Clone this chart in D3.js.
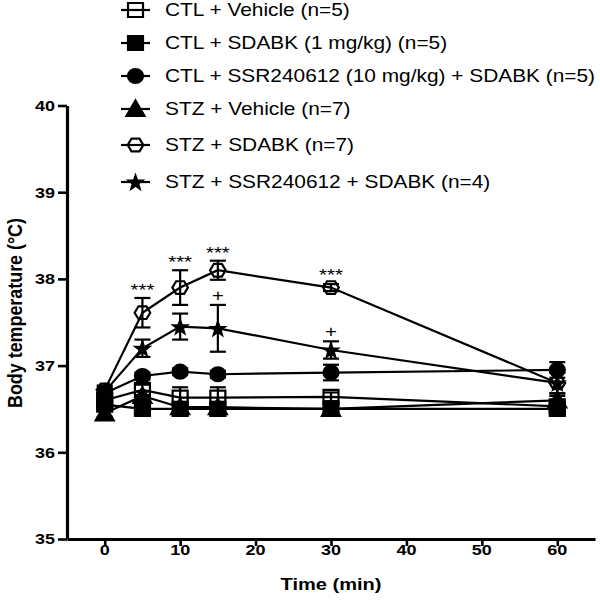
<!DOCTYPE html>
<html>
<head>
<meta charset="utf-8">
<script src="https://cdn.jsdelivr.net/npm/d3@7"></script>
<style>
  html, body { margin: 0; padding: 0; background: #fff; }
  svg { display: block; font-family: "Liberation Sans", Arial, Helvetica, sans-serif; }
</style>
</head>
<body>
<svg id="chart" width="600" height="602"></svg>
<script>
// ---------------- DATA ----------------
const times = [0, 5, 10, 15, 30, 60];
const xTicks = [0, 10, 20, 30, 40, 50, 60];
const yTicks = [35, 36, 37, 38, 39, 40];

const seriesNames = [
  "CTL + Vehicle (n=5)",
  "CTL + SDABK (1 mg/kg) (n=5)",
  "CTL + SSR240612 (10 mg/kg) + SDABK (n=5)",
  "STZ + Vehicle (n=7)",
  "STZ + SDABK (n=7)",
  "STZ + SSR240612 + SDABK (n=4)"
];
const seriesMarkers = ["squareOpen", "square", "circle", "triangle", "hexagonOpen", "star"];

const ctlVehicleMean   = [36.60, 36.72, 36.63, 36.63, 36.64, 36.53];
const ctlVehicleSem    = [0.05, 0.06, 0.12, 0.12, 0.05, 0.05];
const ctlSdabkMean     = [36.55, 36.50, 36.50, 36.50, 36.50, 36.50];
const ctlSdabkSem      = [0.05, 0.05, 0.05, 0.05, 0.05, 0.05];
const ctlSsrSdabkMean  = [36.68, 36.88, 36.93, 36.90, 36.92, 36.95];
const ctlSsrSdabkSem   = [0.05, 0.04, 0.04, 0.04, 0.09, 0.09];
const stzVehicleMean   = [36.45, 36.65, 36.52, 36.52, 36.50, 36.60];
const stzVehicleSem    = [0.04, 0.05, 0.06, 0.06, 0.05, 0.05];
const stzSdabkMean     = [36.72, 37.61, 37.90, 38.10, 37.90, 36.80];
const stzSdabkSem      = [0.05, 0.17, 0.20, 0.11, 0.04, 0.12];
const stzSsrSdabkMean  = [36.70, 37.20, 37.45, 37.43, 37.18, 36.80];
const stzSsrSdabkSem   = [0.05, 0.10, 0.15, 0.27, 0.10, 0.12];

// significance marks: series index, time, text
const annotSeries = [4, 4, 4, 4, 5, 5];
const annotTimes  = [5, 10, 15, 30, 15, 30];
const annotTexts  = ["***", "***", "***", "***", "+", "+"];

const means = [ctlVehicleMean, ctlSdabkMean, ctlSsrSdabkMean, stzVehicleMean, stzSdabkMean, stzSsrSdabkMean];
const sems  = [ctlVehicleSem, ctlSdabkSem, ctlSsrSdabkSem, stzVehicleSem, stzSdabkSem, stzSsrSdabkSem];

// ---------------- CHART ----------------
const SX = 1.2; // horizontal stretch of the reference figure
const svg = d3.select("#chart");
const x = d3.scaleLinear().domain([-5, 65]).range([67, 595]);
const y = d3.scaleLinear().domain([35, 40]).range([539, 105.5]);

const series = seriesNames.map((name, i) => ({
  name, marker: seriesMarkers[i],
  pts: times.map((t, j) => ({ t, m: means[i][j], s: sems[i][j] }))
}));

function markerPath(type) {
  switch (type) {
    case "squareOpen":
    case "square": return "M-7.5,-7H7.5V7H-7.5Z";
    case "circle": return "M-7.5,0A7.5,7 0 1,0 7.5,0A7.5,7 0 1,0 -7.5,0Z";
    case "triangle": return "M0,-8.5L9,7L-9,7Z";
    case "hexagonOpen": return "M-7.8,0L-4,-6.3H4L7.8,0L4,6.3H-4Z";
    case "star": {
      const p = [];
      for (let k = 0; k < 10; k++) {
        const r = k % 2 === 0 ? 7 : 2.8;
        const a = -Math.PI / 2 + k * Math.PI / 5;
        p.push([r * Math.cos(a), r * Math.sin(a) + 0.8]);
      }
      return "M" + p.map(d => d.join(",")).join("L") + "Z";
    }
  }
}
const isOpen = m => m.endsWith("Open");

function stretchedText(g, tx, ty, txt, size, weight, anchor, sx) {
  return g.append("text")
    .attr("transform", `translate(${tx},${ty}) scale(${sx || SX},1)`)
    .attr("text-anchor", anchor || "start")
    .attr("font-size", size)
    .attr("font-weight", weight || "normal")
    .attr("fill", "#000")
    .text(txt);
}
function fitScale(sel, target) {
  const len = sel.node().getComputedTextLength();
  return len > 0 ? target / len : SX;
}

// axes
const yAxis = svg.append("g").attr("transform", `translate(${x(-5)},0)`)
  .call(d3.axisLeft(y).tickValues(yTicks).tickSize(9).tickSizeOuter(0).tickFormat(""));
const xAxis = svg.append("g").attr("transform", `translate(0,${y(35)})`)
  .call(d3.axisBottom(x).tickValues(xTicks).tickSize(7).tickSizeOuter(0).tickFormat(""));
[yAxis, xAxis].forEach(a => {
  a.select(".domain").attr("stroke", "#000").attr("stroke-width", 3.2);
  a.selectAll(".tick line").attr("stroke", "#000").attr("stroke-width", 2.6);
});
yTicks.forEach(v => stretchedText(svg, x(-5) - 12, y(v) + 5.3, String(v), 15, "bold", "end"));
xTicks.forEach(v => stretchedText(svg, x(v), 555, String(v), 15, "bold", "middle"));

const xt = stretchedText(svg, (x(-5) + x(65)) / 2, 590, "Time (min)", 16.5, "bold", "middle");
xt.attr("transform", `translate(${(x(-5) + x(65)) / 2},590) scale(${fitScale(xt, 101)},1)`);

const yl = svg.append("text")
  .attr("text-anchor", "middle").attr("font-size", 17.5).attr("font-weight", "bold")
  .text("Body temperature (\u00B0C)");
const ylk = fitScale(yl, 190);
yl.attr("transform", `translate(22,313) scale(${SX},${ylk}) rotate(-90)`);

// lines
const line = d3.line().x(d => x(d.t)).y(d => y(d.m));
svg.append("g").selectAll("path").data(series).join("path")
  .attr("d", d => line(d.pts)).attr("fill", "none")
  .attr("stroke", "#000").attr("stroke-width", 2.2);

// error bars
const eb = svg.append("g").attr("stroke", "#000").attr("stroke-width", 2.2);
series.forEach(s => s.pts.forEach(p => {
  const cx = x(p.t), y1 = y(p.m + p.s), y2 = y(p.m - p.s);
  eb.append("line").attr("x1", cx).attr("x2", cx).attr("y1", y1).attr("y2", y2);
  eb.append("line").attr("x1", cx - 8).attr("x2", cx + 8).attr("y1", y1).attr("y2", y1);
  eb.append("line").attr("x1", cx - 8).attr("x2", cx + 8).attr("y1", y2).attr("y2", y2);
}));

// markers
series.forEach(s => {
  svg.append("g").selectAll("path").data(s.pts).join("path")
    .attr("transform", p => `translate(${x(p.t)},${y(p.m)})`)
    .attr("d", markerPath(s.marker))
    .attr("fill", isOpen(s.marker) ? "none" : "#000")
    .attr("stroke", "#000").attr("stroke-width", 2.2);
});

// annotations
annotTexts.forEach((txt, i) => {
  const si = annotSeries[i];
  const j = times.indexOf(annotTimes[i]);
  const p = series[si].pts[j];
  const top = y(p.m + Math.max(p.s, 0.05));
  stretchedText(svg, x(p.t), txt === "+" ? top - 4 : top - 2, txt, 17, "normal", "middle");
});

// legend
const legendY = [10, 43, 76, 109, 145, 182];
const lg = svg.append("g");
const legendTexts = [];
series.forEach((s, i) => {
  const ly = legendY[i];
  lg.append("line").attr("x1", 121).attr("x2", 150).attr("y1", ly).attr("y2", ly)
    .attr("stroke", "#000").attr("stroke-width", 2.2);
  lg.append("path").attr("transform", `translate(135.5,${ly})`)
    .attr("d", markerPath(s.marker))
    .attr("fill", isOpen(s.marker) ? "none" : "#000")
    .attr("stroke", "#000").attr("stroke-width", 2.2);
  legendTexts.push(stretchedText(lg, 165, ly + 6.3, s.name, 17.5, "normal", "start"));
});
// longest row spans to the right edge of the figure
const lk = fitScale(legendTexts[2], 430);
legendTexts.forEach((t, i) => t.attr("transform", `translate(165,${legendY[i] + 6.3}) scale(${lk},1)`));
</script>
</body>
</html>
